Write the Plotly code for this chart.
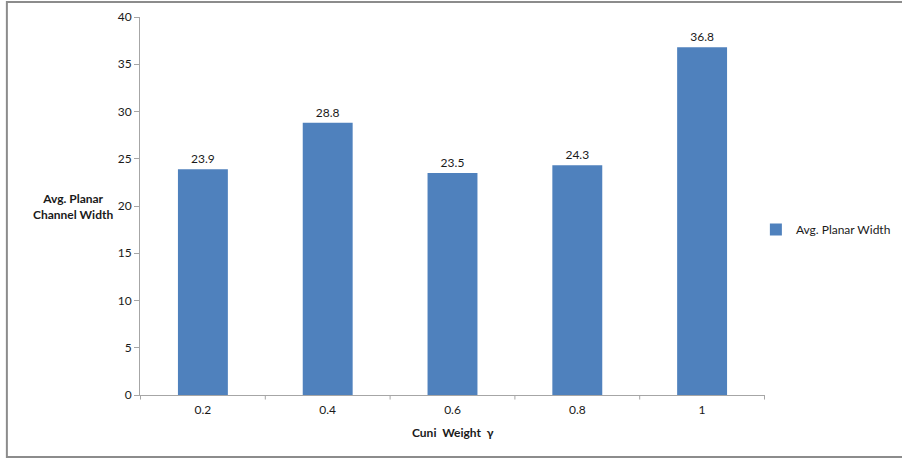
import plotly.graph_objects as go

categories = ["0.2", "0.4", "0.6", "0.8", "1"]
widths = [23.9, 28.8, 23.5, 24.3, 36.8]
series_name = "Avg. Planar Width"
y_ticks = [0, 5, 10, 15, 20, 25, 30, 35, 40]

BAR = "#4F81BD"
AXIS = "#A6A6A6"
TEXT = "#1a1a1a"
FONT = "Lato"

fig = go.Figure()
fig.add_trace(go.Bar(
    x=categories,
    y=widths,
    name=series_name,
    marker=dict(color=BAR, line=dict(width=0)),
    text=[f"{v:.1f}" for v in widths],
    textposition="outside",
    textfont=dict(family=FONT, size=12, color=TEXT),
    cliponaxis=False,
    showlegend=True,
))

fig.update_layout(
    width=902,
    height=459,
    margin=dict(l=140, r=137, t=17, b=64, autoexpand=False),
    paper_bgcolor="white",
    plot_bgcolor="white",
    bargap=0.6,
    font=dict(family=FONT, size=12, color=TEXT),
    legend=dict(
        xref="container", yref="container",
        x=0.838, y=0.5, xanchor="left", yanchor="middle",
        font=dict(family=FONT, size=12, color=TEXT),
        itemwidth=30,
        bgcolor="rgba(0,0,0,0)",
    ),
    xaxis=dict(
        type="category",
        showline=True, linecolor=AXIS, linewidth=1,
        ticks="", showgrid=False,
        ticklabelstandoff=4,
        tickfont=dict(family=FONT, size=12, color=TEXT),
    ),
    yaxis=dict(
        range=[0, 40],
        tickvals=y_ticks,
        showline=True, linecolor=AXIS, linewidth=1,
        ticks="outside", ticklen=5, tickcolor=AXIS,
        showgrid=False, zeroline=False,
        tickfont=dict(family=FONT, size=12, color=TEXT),
    ),
)

# category separator ticks on the x axis (between bars)
for i in range(len(categories) + 1):
    fig.add_shape(
        type="line", xref="x", yref="paper",
        x0=i - 0.5, x1=i - 0.5, y0=0, y1=-0.012,
        line=dict(color=AXIS, width=1),
    )

# axis titles
fig.add_annotation(
    text="<b>Avg. Planar<br>Channel Width</b>",
    xref="paper", yref="paper", x=-0.107, y=0.5,
    xanchor="center", yanchor="middle", showarrow=False,
    font=dict(family=FONT, size=12, color=TEXT), align="center",
)
fig.add_annotation(
    text="<b>Cuni  Weight  γ</b>",
    xref="paper", yref="paper", x=0.5, y=-0.1,
    xanchor="center", yanchor="middle", showarrow=False,
    font=dict(family=FONT, size=12, color=TEXT),
)

# outer chart frame
fig.add_shape(
    type="rect", xref="paper", yref="paper",
    x0=-0.213, x1=1.3, y0=-0.164, y1=1.04,
    line=dict(color="#8C8C8C", width=2), fillcolor="rgba(0,0,0,0)",
    layer="below",
)

fig.write_html("out.html")
